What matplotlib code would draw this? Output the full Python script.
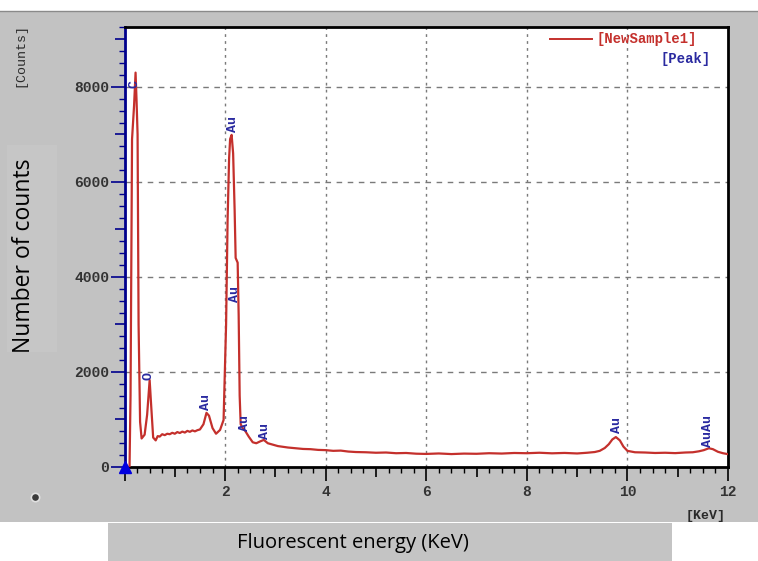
import numpy as np
import matplotlib.pyplot as plt
from matplotlib.patches import Rectangle
from matplotlib.lines import Line2D

# spectrum (keV, counts)
energy = [0.00, 0.10, 0.12, 0.15, 0.19, 0.22, 0.24, 0.26, 0.28, 0.31, 0.34,
          0.40, 0.45, 0.50, 0.53, 0.57, 0.62, 0.66, 0.70, 0.75, 0.80, 0.85,
          0.90, 0.95, 1.00, 1.05, 1.10, 1.15, 1.20, 1.25, 1.30, 1.35, 1.40,
          1.45, 1.50, 1.57, 1.63, 1.68, 1.75, 1.82, 1.90, 1.97, 2.02, 2.05,
          2.08, 2.10, 2.13, 2.16, 2.19, 2.21, 2.25, 2.27, 2.29, 2.31, 2.35,
          2.40, 2.47, 2.55, 2.62, 2.70, 2.77, 2.85, 2.95, 3.05, 3.15, 3.25,
          3.40, 3.55, 3.70, 3.85, 4.00, 4.15, 4.30, 4.45, 4.60, 4.80, 5.00,
          5.20, 5.40, 5.60, 5.80, 6.00, 6.25, 6.50, 6.75, 7.00, 7.25, 7.50,
          7.75, 8.00, 8.25, 8.50, 8.75, 9.00, 9.20, 9.35, 9.45, 9.55, 9.63,
          9.70, 9.77, 9.85, 9.92, 10.00, 10.15, 10.35, 10.55, 10.75, 10.95,
          11.15, 11.30, 11.42, 11.52, 11.62, 11.70, 11.80, 11.90, 12.00]
counts = [0, 0, 1500, 6900, 7600, 8300, 7700, 7000, 3000, 950, 600,
          680, 1100, 1830, 1300, 620, 560, 650, 640, 690, 670, 700,
          690, 720, 700, 735, 715, 745, 725, 760, 740, 770, 750,
          775, 790, 900, 1140, 1080, 820, 700, 780, 990, 3000, 5200,
          6500, 6900, 6990, 6600, 5400, 4400, 4300, 3200, 1500, 900, 820,
          760, 640, 520, 500, 540, 570, 500, 470, 440, 425, 410,
          395, 380, 375, 360, 355, 340, 345, 325, 315, 310, 300,
          305, 290, 295, 280, 275, 285, 272, 282, 278, 290, 283,
          295, 290, 300, 288, 296, 285, 300, 315, 340, 400, 480,
          580, 630, 560, 430, 340, 310, 305, 295, 300, 292,
          305, 310, 330, 355, 395, 375, 320, 290, 270]

# peak markers: label, energy, counts where the text starts
peak_names = ["C", "O", "Au", "Au", "Au", "Au", "Au", "Au", "AuAu"]
peak_energy = [0.20, 0.48, 1.63, 2.16, 2.20, 2.40, 2.80, 9.80, 11.60]
peak_counts = [7980, 1830, 1200, 7050, 3470, 760, 590, 715, 420]

W, H = 758, 561
fig = plt.figure(figsize=(W / 100, H / 100), dpi=100)
fig.patch.set_facecolor("white")


def fx(px):
    return px / W


def fy(py):
    return 1 - py / H


def box(x0, y0, x1, y1, color):
    fig.patches.append(Rectangle((fx(x0), fy(y1)), fx(x1) - fx(x0), fy(y0) - fy(y1),
                                 transform=fig.transFigure, facecolor=color,
                                 edgecolor="none", zorder=-2))


# grey panel and the two label boxes
box(0, 11, W, 522, "#c2c2c2")
fig.lines.append(Line2D([0, 1], [fy(11), fy(11)], transform=fig.transFigure,
                        color="#8a8a8a", lw=1, zorder=-1))
box(7, 145, 57, 352, "#c6c6c6")
box(108, 523, 672, H, "#c4c4c4")

ax = fig.add_axes([fx(124.5), fy(467), fx(728) - fx(124.5), fy(27) - fy(467)])
ax.set_zorder(2)
ax.set_facecolor("white")
ax.set_xlim(0, 12)
ax.set_ylim(0, 9260)

for v in np.arange(2, 12, 2):
    ax.axvline(v, color="#7a7a7a", lw=1, ls=(0, (2, 3)), zorder=1)
for v in np.arange(2000, 9000, 2000):
    ax.axhline(v, color="#7a7a7a", lw=1, ls=(0, (4, 4)), zorder=1)

ax.plot(energy, counts, color="#c4302c", lw=1.6, zorder=3)

mono = "Liberation Mono"
for name, e, c in zip(peak_names, peak_energy, peak_counts):
    ax.text(e, c, name, rotation=90, ha="center", va="bottom", color="#2a2aa0",
            family=mono, fontweight="bold", fontsize=9.5, zorder=4)

# axes styling
for s in ["top", "right", "bottom"]:
    ax.spines[s].set_color("black")
    ax.spines[s].set_linewidth(2)
ax.spines["left"].set_color("#00008c")
ax.spines["left"].set_linewidth(2)

ax.set_xticks(np.arange(0, 13, 1))
ax.set_xticks(np.arange(0, 12.01, 0.25), minor=True)
ax.set_xticklabels(["" if (i % 2 or i == 0) else str(i) for i in range(13)])
ax.set_yticks(np.arange(0, 9001, 1000))
ax.set_yticks(np.arange(0, 9260, 250), minor=True)
ax.set_yticklabels([str(v) if v % 2000 == 0 else "" for v in range(0, 9001, 1000)])

ax.tick_params(axis="x", which="major", length=7, width=1.2, color="black",
               pad=6, labelcolor="#333333")
ax.tick_params(axis="x", which="minor", length=4, width=1, color="black")
ax.tick_params(axis="y", which="major", length=7, width=1.2, color="#00008c",
               pad=4, labelcolor="#333333")
ax.tick_params(axis="y", which="minor", length=4, width=1, color="#00008c")
for i, t in enumerate(ax.xaxis.get_major_ticks()):
    t.tick1line.set_markersize(10 if i % 2 == 0 else 7)
for i, t in enumerate(ax.yaxis.get_major_ticks()):
    t.tick1line.set_markersize(10 if i % 2 == 0 else 7)
for lab in ax.get_xticklabels() + ax.get_yticklabels():
    lab.set_family(mono)
    lab.set_fontweight("bold")
    lab.set_fontsize(10.5)

# origin triangle
ax.plot([0], [0], marker="^", color="#0000e0", markersize=9, clip_on=False, zorder=5)

# legend drawn like the instrument software
ax.plot([0.705, 0.775], [0.973, 0.973], transform=ax.transAxes, color="#c4302c", lw=1.4)
ax.text(0.782, 0.973, "[NewSample1]", transform=ax.transAxes, ha="left", va="center",
        color="#c4302c", family=mono, fontweight="bold", fontsize=10)
ax.text(0.972, 0.928, "[Peak]", transform=ax.transAxes, ha="right", va="center",
        color="#2a2aa0", family=mono, fontweight="bold", fontsize=10)

fig.text(fx(20), fy(55), "[Counts]", rotation=90, ha="center", va="center",
         color="#2a2a2a", family=mono, fontsize=9.5)
fig.text(fx(706), fy(516), "[KeV]", ha="center", va="center",
         color="#2a2a2a", family=mono, fontweight="bold", fontsize=9.5)
fig.lines.append(Line2D([fx(35)], [fy(497)], transform=fig.transFigure, marker="o",
                        markersize=6, markerfacecolor="#3a3a3a",
                        markeredgecolor="#e0e0e0", markeredgewidth=1.2))

fig.text(fx(24), fy(256), "Number of counts", rotation=90, ha="center", va="center",
         color="black", family="Open Sans", fontsize=16.5)
fig.text(fx(353), fy(543), "Fluorescent energy (KeV)", ha="center", va="center",
         color="black", family="Open Sans", fontsize=14.5)

fig.savefig("out.png", dpi=100)
